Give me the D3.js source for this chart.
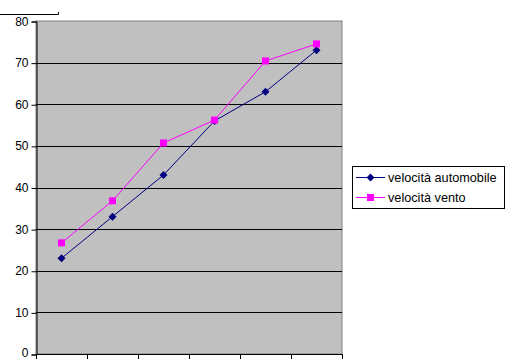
<!DOCTYPE html>
<html><head><meta charset="utf-8">
<script src="https://cdn.jsdelivr.net/npm/d3@7"></script>
<style>body{margin:0;background:#fff}svg{display:block}text{font-family:Arial,"Liberation Sans",sans-serif}</style>
</head><body>
<script>
const categories = ["1","2","3","4","5","6"];
const automobile = [23, 33, 43, 56, 63, 73];
const vento = [26.7, 36.8, 50.7, 56.2, 70.4, 74.5];
const yTicks = [0,10,20,30,40,50,60,70,80];
const seriesNames = ["velocità automobile", "velocità vento"];
const colors = ["#000080", "#FF00FF"];

const W = 506, H = 360;
const svg = d3.select("body").append("svg").attr("width", W).attr("height", H);
const L = 36, R = 342, T = 21, B = 354;
const x = d3.scaleBand().domain(categories).range([L, R]);
const y = d3.scaleLinear().domain([0, 80]).range([B, T]);

// stray title frame fragment
svg.append("path").attr("d", "M0,14.5H58.5V12").attr("fill","none").attr("stroke","#000").attr("stroke-width",1);

// plot area
svg.append("rect").attr("x", L).attr("y", T).attr("width", R - L).attr("height", B - T)
  .attr("fill", "#C0C0C0").attr("stroke", "#808080").attr("stroke-width", 1);

// gridlines
svg.append("g").selectAll("line").data(yTicks.filter(d => d > 0 && d < 80)).join("line")
  .attr("x1", L).attr("x2", R).attr("y1", d => Math.round(y(d)) + 0.5).attr("y2", d => Math.round(y(d)) + 0.5)
  .attr("stroke", "#000").attr("stroke-width", 1);

// y axis
const yAxis = d3.axisLeft(y).tickValues(yTicks).tickSize(5).tickPadding(3);
const gy = svg.append("g").attr("transform", `translate(${L + 0.5},0.5)`).call(yAxis);
gy.select(".domain").attr("stroke", "#000");
gy.selectAll("line").attr("stroke", "#000");
gy.selectAll("text").attr("font-size", 12).attr("fill", "#000")
  .attr("dy", d => d === 0 ? "0.2em" : "0.3em");

// x axis (ticks at band edges, no labels)
const edges = categories.map(c => x(c)).concat([R]);
const gx = svg.append("g");
gx.append("line").attr("x1", L).attr("x2", R + 1).attr("y1", B + 0.5).attr("y2", B + 0.5).attr("stroke", "#000");
gx.selectAll("line.t").data(edges).join("line").attr("class","t")
  .attr("x1", d => Math.round(d) + 0.5).attr("x2", d => Math.round(d) + 0.5)
  .attr("y1", B).attr("y2", B + 5).attr("stroke", "#000");

const cx = c => x(c) + x.bandwidth() / 2;
const line = d3.line().x((d, i) => cx(categories[i])).y(d => y(d));

// series
const data = [automobile, vento];
data.forEach((vals, si) => {
  svg.append("path").datum(vals).attr("d", line).attr("fill", "none")
    .attr("stroke", colors[si]).attr("stroke-width", 1);
});
// markers
svg.append("g").selectAll("path").data(automobile).join("path")
  .attr("d", "M0,-4L4,0L0,4L-4,0Z")
  .attr("transform", (d, i) => `translate(${cx(categories[i])},${y(d)})`)
  .attr("fill", colors[0]);
svg.append("g").selectAll("rect").data(vento).join("rect")
  .attr("x", (d, i) => cx(categories[i]) - 3.5).attr("y", d => y(d) - 3.5)
  .attr("width", 7).attr("height", 7).attr("fill", colors[1]);

// legend
const lg = svg.append("g");
lg.append("rect").attr("x", 352.5).attr("y", 166.5).attr("width", 152).attr("height", 42)
  .attr("fill", "#fff").attr("stroke", "#000");
seriesNames.forEach((n, i) => {
  const yy = 177.5 + i * 20;
  lg.append("line").attr("x1", 356).attr("x2", 385).attr("y1", yy).attr("y2", yy).attr("stroke", colors[i]);
  if (i === 0) lg.append("path").attr("d", "M0,-4L4,0L0,4L-4,0Z").attr("transform", `translate(370.5,${yy})`).attr("fill", colors[0]);
  else lg.append("rect").attr("x", 367).attr("y", yy - 3.5).attr("width", 7).attr("height", 7).attr("fill", colors[1]);
  lg.append("text").attr("x", 388).attr("y", yy + 4.5).attr("font-size", 12.7).attr("fill", "#000").text(n);
});
</script>
</body></html>
